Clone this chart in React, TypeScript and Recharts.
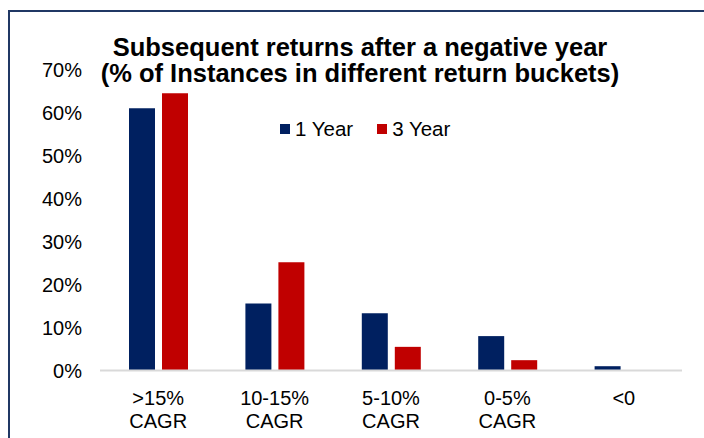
import { BarChart, Bar, XAxis, YAxis, Legend } from 'recharts';

const buckets = ['>15%\nCAGR', '10-15%\nCAGR', '5-10%\nCAGR', '0-5%\nCAGR', '<0'];
const oneYear = [61, 15.6, 13.3, 8, 1];
const threeYear = [64.5, 25.2, 5.5, 2.4, 0];
const yTicks = [0, 10, 20, 30, 40, 50, 60, 70];

const data = buckets.map((b, i) => ({ bucket: b, y1: oneYear[i], y3: threeYear[i] }));

const FONT = '"Liberation Sans", Arial, sans-serif';

function BucketTick(props: any) {
  const { x, y, payload } = props;
  const lines = String(payload.value).split('\n');
  return (
    <text x={x} y={y} textAnchor="middle" fill="#000" fontSize={20} fontFamily={FONT}>
      {lines.map((l, i) => (
        <tspan key={i} x={x} dy={i === 0 ? 26 : 23}>
          {l}
        </tspan>
      ))}
    </text>
  );
}

function LegendBox(props: any) {
  const items = props.payload || [];
  return (
    <div style={{ display: 'flex', fontFamily: FONT, fontSize: 20.5, color: '#000', lineHeight: '20px' }}>
      {items.map((it: any, i: number) => (
        <div key={i} style={{ display: 'flex', alignItems: 'center', marginRight: 24 }}>
          <span style={{ width: 10, height: 10, background: it.color, marginRight: 5, display: 'inline-block' }} />
          <span>{it.value}</span>
        </div>
      ))}
    </div>
  );
}

export default function App() {
  return (
    <div style={{ position: 'absolute', left: 0, top: 0, width: 704, height: 438, overflow: 'hidden', background: '#fff' }}>
      <div
        style={{
          position: 'absolute',
          left: 8,
          top: 10,
          width: 720,
          height: 460,
          border: '2px solid #203864',
          boxSizing: 'border-box',
        }}
      />
      <BarChart
        width={704}
        height={438}
        data={data}
        margin={{ top: 69.5, right: 22, bottom: 17.5, left: 0 }}
        barSize={26}
        barGap={7}
      >
        <XAxis
          dataKey="bucket"
          height={50}
          tickLine={false}
          axisLine={{ stroke: '#D9D9D9', strokeWidth: 2 }}
          tick={<BucketTick />}
          interval={0}
        />
        <YAxis
          width={100}
          domain={[0, 70]}
          ticks={yTicks}
          tickFormatter={(v) => `${v}%`}
          axisLine={false}
          tickLine={false}
          tickSize={6}
          tickMargin={12}
          tick={{ fill: '#000', fontSize: 20, fontFamily: FONT }}
        />
        <Legend
          layout="horizontal"
          verticalAlign="middle"
          align="center"
          content={<LegendBox />}
          wrapperStyle={{ left: 280, top: 119, width: 'auto' }}
        />
        <Bar dataKey="y1" name="1 Year" fill="#002060" isAnimationActive={false} />
        <Bar dataKey="y3" name="3 Year" fill="#C00000" isAnimationActive={false} />
      </BarChart>
      <div
        style={{
          position: 'absolute',
          left: 0,
          top: 34.2,
          width: 720,
          textAlign: 'center',
          fontFamily: FONT,
          fontWeight: 'bold',
          fontSize: 25.5,
          lineHeight: '26px',
          color: '#000',
          pointerEvents: 'none',
        }}
      >
        Subsequent returns after a negative year
        <br />
        (% of Instances in different return buckets)
      </div>
    </div>
  );
}
